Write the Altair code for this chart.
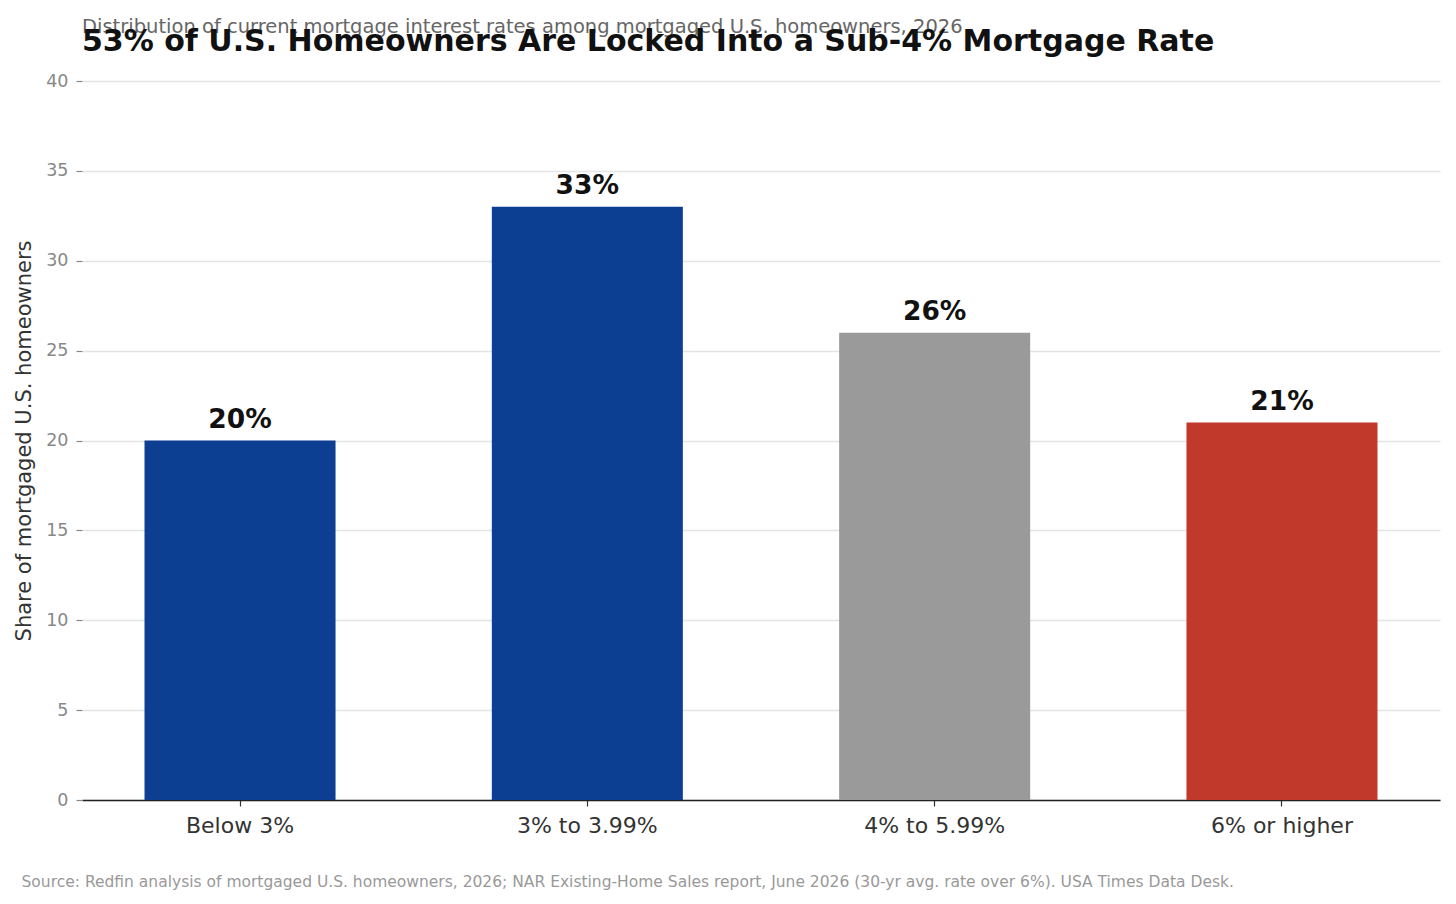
import altair as alt
import pandas as pd

categories = ["Below 3%", "3% to 3.99%", "4% to 5.99%", "6% or higher"]
shares = [20, 33, 26, 21]
labels = ["20%", "33%", "26%", "21%"]
groups = ["low", "low", "mid", "high"]
group_domain = ["low", "mid", "high"]
group_colors = ["#0c3f92", "#9a9a9a", "#c0392b"]

title_text = "53% of U.S. Homeowners Are Locked Into a Sub-4% Mortgage Rate"
subtitle_text = "Distribution of current mortgage interest rates among mortgaged U.S. homeowners, 2026"
source_text = ("Source: Redfin analysis of mortgaged U.S. homeowners, 2026; NAR Existing-Home Sales report, "
               "June 2026 (30-yr avg. rate over 6%). USA Times Data Desk.")

df = pd.DataFrame({"category": categories, "share": shares, "label": labels, "group": groups})

FONT = "DejaVu Sans"

x = alt.X(
    "category:N",
    sort=categories,
    scale=alt.Scale(paddingInner=0.45, paddingOuter=0.18),
    axis=alt.Axis(
        title=source_text,
        titleFont=FONT,
        titleFontSize=15.5,
        titleFontWeight="normal",
        titleColor="#999999",
        titleAnchor="start",
        titleAlign="left",
        titleBaseline="alphabetic",
        titleX=-61,
        titleY=86,
        labelAngle=0,
        labelFont=FONT,
        labelFontSize=22,
        labelColor="#333333",
        labelPadding=9,
        tickSize=6,
        tickColor="#333333",
        tickWidth=1.2,
        domainColor="#222222",
        domainWidth=1.5,
        grid=False,
    ),
)

y = alt.Y(
    "share:Q",
    scale=alt.Scale(domain=[0, 40]),
    axis=alt.Axis(
        title="Share of mortgaged U.S. homeowners",
        titleFont=FONT,
        titleFontSize=21,
        titleFontWeight="normal",
        titleColor="#333333",
        titlePadding=11,
        values=[0, 5, 10, 15, 20, 25, 30, 35, 40],
        labelFont=FONT,
        labelFontSize=17.5,
        labelColor="#888888",
        labelPadding=8,
        tickSize=6,
        tickColor="#888888",
        tickWidth=1.2,
        domain=False,
        grid=True,
        gridColor="#e4e4e4",
        gridWidth=1.5,
    ),
)

bars = alt.Chart(df).mark_bar().encode(
    x=x,
    y=y,
    color=alt.Color("group:N", scale=alt.Scale(domain=group_domain, range=group_colors), legend=None),
)

text = alt.Chart(df).mark_text(
    font=FONT, fontSize=26.5, fontWeight="bold", color="#111111", baseline="alphabetic", dy=-13
).encode(
    x=alt.X("category:N", sort=categories),
    y="share:Q",
    text="label:N",
)

chart = alt.layer(bars, text).properties(
    width=1358,
    height=719,
    background="white",
    autosize=alt.AutoSizeParams(type="none"),
    padding={"left": 74, "top": 73, "right": 8, "bottom": 98},
    title=alt.TitleParams(
        text=subtitle_text,
        subtitle=title_text,
        anchor="start",
        frame="group",
        font=FONT,
        fontSize=19.5,
        fontWeight="normal",
        color="#666666",
        subtitleFont=FONT,
        subtitleFontSize=30,
        subtitleFontWeight="bold",
        subtitleColor="#111111",
        subtitlePadding=-10,
        offset=14,
    ),
).configure_view(stroke="transparent", strokeWidth=0)

chart.save("out.html", embed_options={"renderer": "svg", "actions": False})
